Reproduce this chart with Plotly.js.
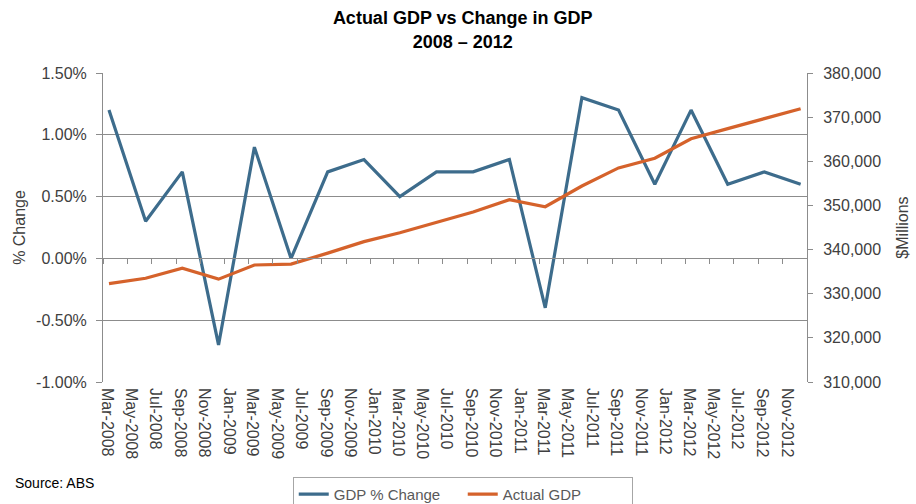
<!DOCTYPE html>
<html>
<head>
<meta charset="utf-8">
<script src="https://cdn.plot.ly/plotly-3.0.1.min.js"></script>
<style>html,body{margin:0;padding:0;background:#fff;}#chart{width:916px;height:504px;}</style>
</head>
<body>
<div id="chart"></div>
<script>
// Quarterly observation dates (plotted at the middle of each month)
const quarters = ['2008-03-16','2008-06-16','2008-09-16','2008-12-16',
  '2009-03-16','2009-06-16','2009-09-16','2009-12-16',
  '2010-03-16','2010-06-16','2010-09-16','2010-12-16',
  '2011-03-16','2011-06-16','2011-09-16','2011-12-16',
  '2012-03-16','2012-06-16','2012-09-16','2012-12-16'];
// GDP % change (fraction)
const gdpPctChange = [0.012,0.003,0.007,-0.007,0.009,0.000,0.007,0.008,0.005,0.007,
  0.007,0.008,-0.004,0.013,0.012,0.006,0.012,0.006,0.007,0.006];
// Actual GDP ($ millions)
const actualGdp = [332300,333500,335800,333300,336500,336700,339200,341800,343800,346200,
  348500,351300,349700,354400,358500,360700,365100,367400,369600,371900];
// X tick labels (every two months)
const xTickDates = ['2008-03-01','2008-05-01','2008-07-01','2008-09-01','2008-11-01',
  '2009-01-01','2009-03-01','2009-05-01','2009-07-01','2009-09-01','2009-11-01',
  '2010-01-01','2010-03-01','2010-05-01','2010-07-01','2010-09-01','2010-11-01',
  '2011-01-01','2011-03-01','2011-05-01','2011-07-01','2011-09-01','2011-11-01',
  '2012-01-01','2012-03-01','2012-05-01','2012-07-01','2012-09-01','2012-11-01'];
const xTickText = ['Mar-2008','May-2008','Jul-2008','Sep-2008','Nov-2008',
  'Jan-2009','Mar-2009','May-2009','Jul-2009','Sep-2009','Nov-2009',
  'Jan-2010','Mar-2010','May-2010','Jul-2010','Sep-2010','Nov-2010',
  'Jan-2011','Mar-2011','May-2011','Jul-2011','Sep-2011','Nov-2011',
  'Jan-2012','Mar-2012','May-2012','Jul-2012','Sep-2012','Nov-2012'];
// Y axis ticks
const leftTickVals = [-0.01,-0.005,0,0.005,0.01,0.015];
const leftTickText = ['-1.00%','-0.50%','0.00%','0.50%','1.00%','1.50%'];
const rightTickVals = [310000,320000,330000,340000,350000,360000,370000,380000];
const rightTickText = ['310,000','320,000','330,000','340,000','350,000','360,000','370,000','380,000'];

const gridCol = '#8c8c8c';
const txtCol = '#404040';
const font = 'Arial, "Liberation Sans", sans-serif';
const xRange = ['2008-03-01','2013-01-01'];

const traces = [
  {x: quarters, y: gdpPctChange, name: 'GDP % Change', type: 'scatter', mode: 'lines',
   line: {color: '#3d6c8c', width: 3.2}, xaxis: 'x', yaxis: 'y'},
  {x: quarters, y: actualGdp, name: 'Actual GDP', type: 'scatter', mode: 'lines',
   line: {color: '#d5622b', width: 3.2}, xaxis: 'x', yaxis: 'y2'},
  {x: quarters, y: quarters.map(() => null), xaxis: 'x2', yaxis: 'y', showlegend: false,
   hoverinfo: 'skip', mode: 'lines'}
];

const layout = {
  width: 916, height: 504,
  margin: {l: 103, r: 109, t: 73, b: 122, pad: 0, autoexpand: false},
  paper_bgcolor: '#ffffff', plot_bgcolor: '#ffffff',
  font: {family: font, color: txtCol},
  title: {text: 'Actual GDP vs Change in GDP<br>2008 – 2012',
    x: 0.511, xanchor: 'center', xref: 'paper', y: 0.952, yref: 'container', yanchor: 'top',
    font: {family: font, size: 18, color: '#000000', weight: 'bold'}},
  xaxis: {type: 'date', range: xRange, tickvals: xTickDates, ticktext: xTickText,
    tickangle: 90, ticks: '', showgrid: false, zeroline: false, showline: false,
    automargin: false, ticklabelshift: 4, ticklabelstandoff: 5,
    tickfont: {family: font, size: 16, color: txtCol}},
  xaxis2: {type: 'date', range: xRange, tick0: '2008-03-01', dtick: 'M2', overlaying: 'x',
    anchor: 'free', position: 0.4, showticklabels: false, ticks: 'outside', ticklen: 5,
    tickcolor: gridCol, showline: true, linecolor: gridCol, linewidth: 1, showgrid: false, zeroline: false},
  yaxis: {range: [-0.01, 0.015], tickvals: leftTickVals, ticktext: leftTickText,
    showgrid: true, gridcolor: gridCol, gridwidth: 1, zeroline: false, automargin: false,
    showline: true, linecolor: gridCol, ticks: 'outside', ticklen: 6, tickcolor: gridCol,
    ticklabelstandoff: 6,
    tickfont: {family: font, size: 16, color: txtCol},
    title: {text: '% Change', font: {family: font, size: 16, color: txtCol}, standoff: 6}},
  yaxis2: {range: [310000, 380000], tickvals: rightTickVals, ticktext: rightTickText,
    overlaying: 'y', side: 'right', showgrid: false, zeroline: false, automargin: false,
    showline: true, linecolor: gridCol, ticks: 'outside', ticklen: 5, tickcolor: gridCol,
    ticklabelstandoff: 7,
    tickfont: {family: font, size: 16, color: txtCol},
    title: {text: '$Millions', font: {family: font, size: 16, color: txtCol}, standoff: 16}},
  showlegend: true,
  legend: {orientation: 'h', x: 0.511, xanchor: 'center', y: -0.307, yanchor: 'top',
    bordercolor: '#a6a6a6', borderwidth: 1, font: {family: font, size: 15, color: '#595959'},
    entrywidth: 124, entrywidthmode: 'pixels', traceorder: 'normal'},
  annotations: [{text: 'Source: ABS', xref: 'paper', yref: 'paper', x: -0.128, y: -0.328,
    xanchor: 'left', yanchor: 'middle', showarrow: false,
    font: {family: font, size: 14, color: '#000000'}}]
};

Plotly.newPlot('chart', traces, layout, {displayModeBar: false, staticPlot: true});
</script>
</body>
</html>
